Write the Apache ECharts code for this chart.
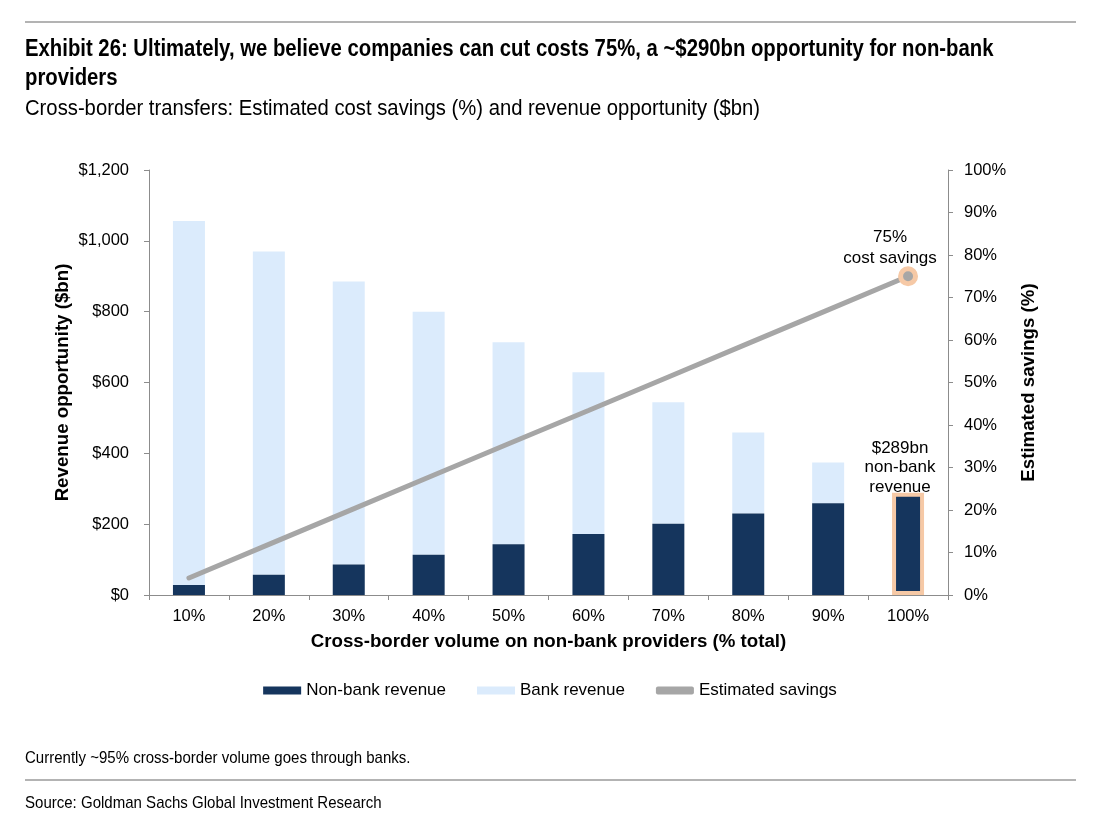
<!DOCTYPE html>
<html>
<head>
<meta charset="utf-8">
<script src="https://cdn.jsdelivr.net/npm/echarts@6/dist/echarts.min.js"></script>
<style>html,body{margin:0;padding:0;background:#fff;}#chart{width:1100px;height:832px;}</style>
</head>
<body>
<div id="chart"></div>
<script>
const categories = ['10%','20%','30%','40%','50%','60%','70%','80%','90%','100%'];
const nonBankRevenue = [28, 57, 86, 114, 143, 172, 201, 230, 259, 289];
const bankRevenue = [1028, 913, 799, 686, 571, 457, 343, 229, 115, 0];
const estimatedSavings = [4, 11.9, 19.8, 27.7, 35.6, 43.4, 51.3, 59.2, 67.1, 75];
const seriesNames = ['Non-bank revenue', 'Bank revenue', 'Estimated savings'];

const ARIAL = "'Liberation Sans', Arial, sans-serif";
const NAVY = '#15355d';
const LIGHT = '#dbebfc';
const GRAY = '#a6a6a6';
const PEACH = '#f6c9a6';

const last = categories.length - 1;
const nonBankData = nonBankRevenue.map((v, i) => i === last ? {
  value: v,
  itemStyle: { borderColor: PEACH, borderWidth: 4 },
  label: {
    show: true, position: 'top', distance: 2, offset: [-8, 6],
    formatter: '$' + v + 'bn\nnon-bank\nrevenue',
    fontFamily: ARIAL, fontSize: 17, lineHeight: 19.5, color: '#000'
  }
} : v);
const savingsData = estimatedSavings.map((v, i) => i === last ? {
  value: v, symbol: 'circle', symbolSize: 15,
  itemStyle: { color: GRAY, borderColor: PEACH, borderWidth: 5 },
  label: {
    show: true, position: 'top', distance: 4, offset: [-18, 7],
    formatter: v + '%\ncost savings',
    fontFamily: ARIAL, fontSize: 17, lineHeight: 21, color: '#000'
  }
} : v);

function narrowText(x, y, text, font, lineHeight, scale) {
  return { type: 'text', x: x, y: y, scaleX: scale, scaleY: 1,
    style: { text: text, font: font, fill: '#000', lineHeight: lineHeight, verticalAlign: 'top', align: 'left' } };
}

const chart = echarts.init(document.getElementById('chart'));
chart.setOption({
  animation: false,
  backgroundColor: '#fff',
  graphic: [
    { type: 'line', shape: { x1: 25, y1: 22, x2: 1076, y2: 22 }, style: { stroke: '#b3b3b3', lineWidth: 2 } },
    narrowText(25, 35.5, 'Exhibit 26: Ultimately, we believe companies can cut costs 75%, a ~$290bn opportunity for non-bank\nproviders', 'bold 23px ' + ARIAL, 29, 0.883),
    narrowText(25, 96, 'Cross-border transfers: Estimated cost savings (%) and revenue opportunity ($bn)', '22.5px ' + ARIAL, 26, 0.9),
    narrowText(25, 748, 'Currently ~95% cross-border volume goes through banks.', '17px ' + ARIAL, 20, 0.884),
    { type: 'line', shape: { x1: 25, y1: 780, x2: 1076, y2: 780 }, style: { stroke: '#b3b3b3', lineWidth: 2 } },
    narrowText(25, 793, 'Source: Goldman Sachs Global Investment Research', '17px ' + ARIAL, 20, 0.884)
  ],
  legend: {
    bottom: 128, left: 'center', itemWidth: 38, itemHeight: 8, itemGap: 31,
    textStyle: { fontFamily: ARIAL, fontSize: 17, color: '#000' },
    data: [
      { name: seriesNames[0], icon: 'rect' },
      { name: seriesNames[1], icon: 'rect' },
      { name: seriesNames[2], icon: 'roundRect' }
    ]
  },
  grid: { left: 149, right: 152, top: 170, bottom: 237 },
  xAxis: {
    type: 'category', data: categories,
    name: 'Cross-border volume on non-bank providers (% total)',
    nameLocation: 'middle', nameGap: 37,
    nameTextStyle: { fontFamily: ARIAL, fontSize: 18.7, fontWeight: 'bold', color: '#000' },
    axisLine: { lineStyle: { color: '#8c8c8c', width: 1 } },
    axisTick: { show: true, length: 5, lineStyle: { color: '#8c8c8c' } },
    axisLabel: { fontFamily: ARIAL, fontSize: 16.5, color: '#000', margin: 13 }
  },
  yAxis: [
    {
      type: 'value', min: 0, max: 1200, interval: 200,
      name: 'Revenue opportunity ($bn)', nameLocation: 'middle', nameGap: 77, nameRotate: 90,
      nameMoveOverlap: false,
      nameTextStyle: { fontFamily: ARIAL, fontSize: 18.7, fontWeight: 'bold', color: '#000' },
      axisLine: { show: true, lineStyle: { color: '#8c8c8c', width: 1 } },
      axisTick: { show: true, length: 5, lineStyle: { color: '#8c8c8c' } },
      splitLine: { show: false },
      axisLabel: { fontFamily: ARIAL, fontSize: 16.5, color: '#000', margin: 20,
        formatter: v => '$' + v.toLocaleString('en-US') }
    },
    {
      type: 'value', min: 0, max: 100, interval: 10, position: 'right',
      name: 'Estimated savings (%)', nameLocation: 'middle', nameGap: 71, nameRotate: 90,
      nameTextStyle: { fontFamily: ARIAL, fontSize: 18.7, fontWeight: 'bold', color: '#000' },
      axisLine: { show: true, lineStyle: { color: '#8c8c8c', width: 1 } },
      axisTick: { show: true, length: 5, lineStyle: { color: '#8c8c8c' } },
      splitLine: { show: false },
      axisLabel: { fontFamily: ARIAL, fontSize: 16.5, color: '#000', margin: 16, formatter: '{value}%' }
    }
  ],
  series: [
    { name: seriesNames[0], type: 'bar', stack: 'rev', barWidth: 32, data: nonBankData,
      itemStyle: { color: NAVY }, z: 3 },
    { name: seriesNames[1], type: 'bar', stack: 'rev', barWidth: 32, data: bankRevenue,
      itemStyle: { color: LIGHT }, z: 2 },
    { name: seriesNames[2], type: 'line', yAxisIndex: 1, data: savingsData,
      symbol: 'none', showSymbol: true,
      lineStyle: { color: GRAY, width: 5, cap: 'round' },
      itemStyle: { color: GRAY }, z: 5 }
  ]
});
</script>
</body>
</html>
